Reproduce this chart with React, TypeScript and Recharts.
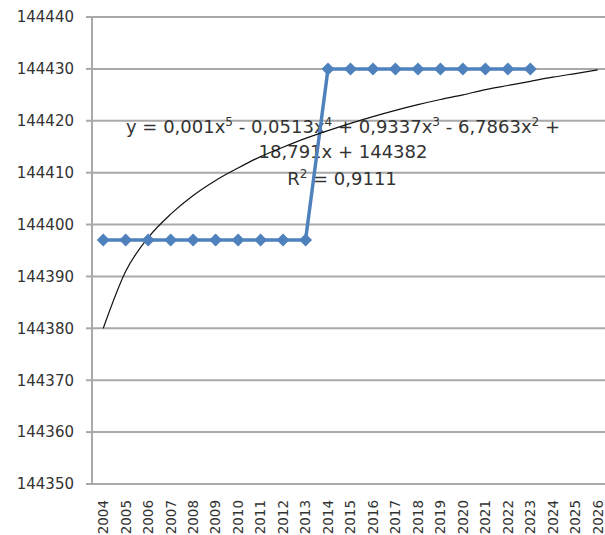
import React from 'react';
import { LineChart, Line, XAxis, YAxis, CartesianGrid, Customized } from 'recharts';

const YEARS = ['2004', '2005', '2006', '2007', '2008', '2009', '2010', '2011', '2012', '2013', '2014', '2015', '2016', '2017', '2018', '2019', '2020', '2021', '2022', '2023', '2024', '2025', '2026'];
const POPULATION: (number | null)[] = [144397, 144397, 144397, 144397, 144397, 144397, 144397, 144397, 144397, 144397, 144430, 144430, 144430, 144430, 144430, 144430, 144430, 144430, 144430, 144430, null, null, null];
const TREND = [144380, 144391, 144397.5, 144402, 144405.6, 144408.5, 144410.9, 144413.1, 144414.9, 144416.6, 144418.1, 144419.5, 144420.8, 144422, 144423.1, 144424.1, 144425, 144426, 144426.8, 144427.6, 144428.4, 144429.1, 144429.8];
const Y_TICKS = [144350, 144360, 144370, 144380, 144390, 144400, 144410, 144420, 144430, 144440];

const EQ_LINE1: [string, string][] = [
  ['y = 0,001x', '5'],
  [' - 0,0513x', '4'],
  [' + 0,9337x', '3'],
  [' - 6,7863x', '2'],
  [' +', ''],
];
const EQ_LINE2 = '18,791x + 144382';
const EQ_LINE3: [string, string][] = [
  ['R', '2'],
  [' = 0,9111', ''],
];

const data = YEARS.map((year, i) => ({ idx: i, year, population: POPULATION[i], trend: TREND[i] }));
const LABEL_TICKS = YEARS.map((_, i) => i);
const BOUND_TICKS = [...YEARS.map((_, i) => i - 0.5), YEARS.length - 0.5];
const DOMAIN: [number, number] = [-0.5, YEARS.length - 0.5];

const FONT = '"DejaVu Sans", Verdana, sans-serif';
const GRID = '#a9a9a9';
const BLUE = '#4f81bd';
const TEXT = '#333';

const Diamond = (props: any) => {
  const { cx, cy, value } = props;
  if (value == null || cx == null || cy == null) return null;
  const r = 6.5;
  return <polygon points={`${cx},${cy - r} ${cx + r},${cy} ${cx},${cy + r} ${cx - r},${cy}`} fill={BLUE} />;
};

const YearTick = (props: any) => {
  const { x, y, payload } = props;
  return (
    <text x={x} y={y} transform={`rotate(-90, ${x}, ${y})`} textAnchor="end" dy="0.36em" fontSize={13.5} fill={TEXT} fontFamily={FONT}>
      {YEARS[payload.value]}
    </text>
  );
};

const renderSegments = (segs: [string, string][]) => {
  const out: React.ReactNode[] = [];
  segs.forEach(([base, sup], i) => {
    const raised = i > 0 && segs[i - 1][1] !== '';
    out.push(
      <tspan key={`b${i}`} dy={raised ? 7 : 0}>
        {base}
      </tspan>
    );
    if (sup) {
      out.push(
        <tspan key={`s${i}`} dy={-7} fontSize={12}>
          {sup}
        </tspan>
      );
    }
  });
  return out;
};

const Equation = () => (
  <g fontFamily={FONT} fontSize={18} fill={TEXT}>
    <text x={343} y={133} textAnchor="middle">
      {renderSegments(EQ_LINE1)}
    </text>
    <text x={343} y={158} textAnchor="middle">
      {EQ_LINE2}
    </text>
    <text x={342} y={185} textAnchor="middle">
      {renderSegments(EQ_LINE3)}
    </text>
  </g>
);

export default function App() {
  return (
    <div style={{ position: 'absolute', left: 0, top: 0, width: 605, height: 535, overflow: 'hidden', background: '#fff' }}>
      <LineChart width={614} height={535} data={data} margin={{ top: 17, right: 5, bottom: 0, left: 0 }}>
        <CartesianGrid xAxisId="grid" stroke={GRID} strokeWidth={2} />
        <XAxis
          xAxisId="grid"
          type="number"
          dataKey="idx"
          domain={DOMAIN}
          ticks={BOUND_TICKS}
          interval={0}
          allowDataOverflow
          tick={false}
          tickSize={8}
          height={8}
          stroke={GRID}
          strokeWidth={2}
        />
        <XAxis
          xAxisId="label"
          type="number"
          dataKey="idx"
          domain={DOMAIN}
          ticks={LABEL_TICKS}
          interval={0}
          allowDataOverflow
          axisLine={false}
          tickLine={false}
          tickSize={0}
          tickMargin={8}
          height={43}
          tick={<YearTick />}
        />
        <YAxis
          domain={[144350, 144440]}
          ticks={Y_TICKS}
          interval={0}
          width={92}
          tickSize={6}
          tickMargin={12}
          stroke={GRID}
          strokeWidth={2}
          tick={{ fontSize: 15, fill: TEXT, fontFamily: FONT }}
          allowDataOverflow
        />
        <Line
          xAxisId="label"
          dataKey="population"
          stroke={BLUE}
          strokeWidth={3.5}
          dot={<Diamond />}
          activeDot={false}
          isAnimationActive={false}
          type="linear"
        />
        <Line
          xAxisId="label"
          dataKey="trend"
          stroke="#111"
          strokeWidth={1.2}
          dot={false}
          activeDot={false}
          isAnimationActive={false}
          type="monotone"
        />
        <Customized component={Equation} />
      </LineChart>
    </div>
  );
}
